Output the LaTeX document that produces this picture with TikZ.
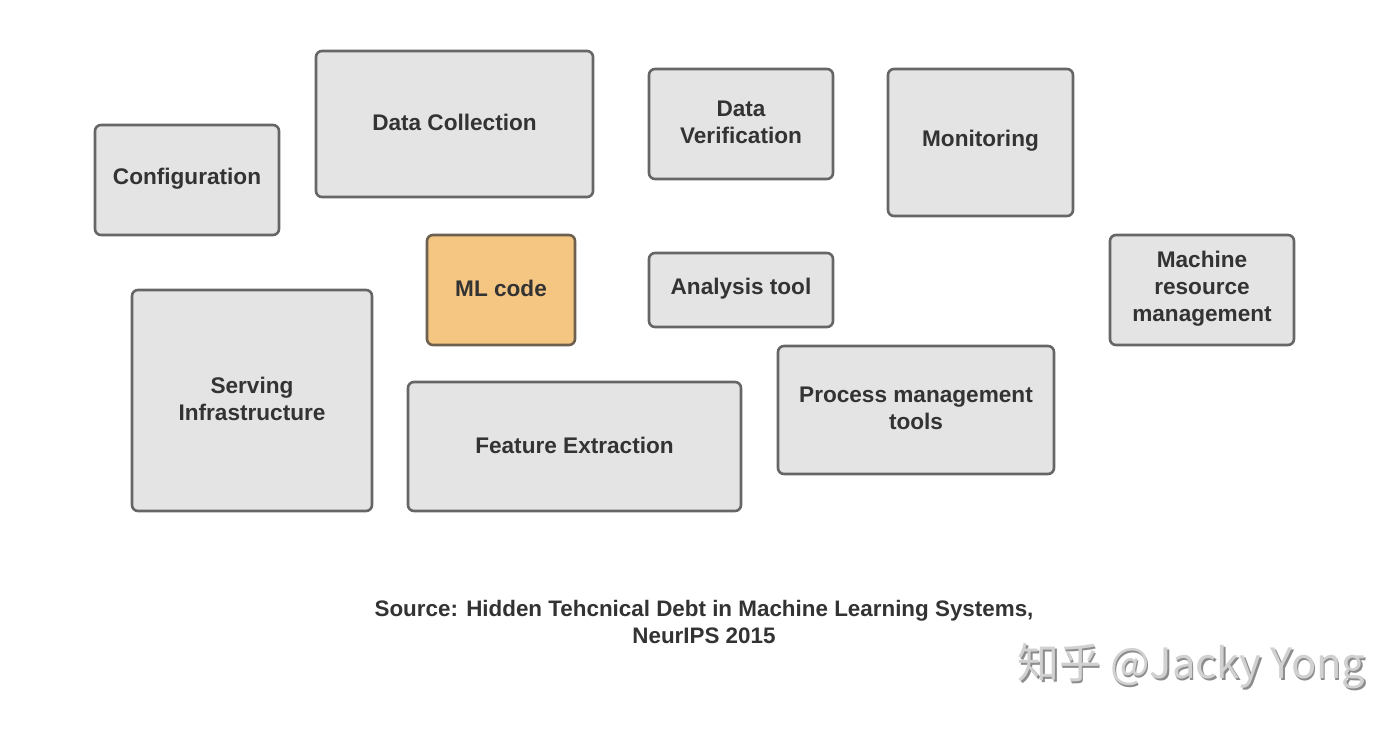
\documentclass[tikz,border=0pt]{standalone}
\usepackage{fontspec}
\setmainfont{Liberation Sans}
\newfontfamily\cjk{Noto Sans CJK SC}
\definecolor{boxfill}{HTML}{E4E4E4}
\definecolor{boxline}{HTML}{666666}
\definecolor{mlfill}{HTML}{F5C582}
\definecolor{mlline}{HTML}{6E6050}
\definecolor{txt}{HTML}{333333}
\begin{document}
\begin{tikzpicture}[x=1pt,y=-1pt,
  blk/.style={draw=boxline,fill=boxfill,line width=2.6pt,rounded corners=6pt},
  lbl/.style={text=txt,font=\bfseries\fontsize{22.6}{27}\selectfont,align=center,inner sep=0pt},
]
\useasboundingbox[fill=white] (0,0) rectangle (1400,729);
% boxes
\newcommand\bx[6]{%
  \draw[blk,#6] (#1,#2) rectangle (#3,#4);
  \node[lbl] (#5) at ({(#1+#3)/2},{(#2+#4)/2-1.5}) {\csname lbl#5\endcsname};}
\newcommand\lblconf{Configuration}
\newcommand\lbldc{Data Collection}
\newcommand\lbldv{Data\\Verification}
\newcommand\lblmon{Monitoring}
\newcommand\lblmrm{Machine\\resource\\management}
\newcommand\lblml{ML code}
\newcommand\lblat{Analysis tool}
\newcommand\lblsi{Serving\\Infrastructure}
\newcommand\lblfe{Feature Extraction}
\newcommand\lblpm{Process management\\tools}
\bx{95}{125}{279}{235}{conf}{}
\bx{316}{51}{593}{197}{dc}{}
\bx{649}{69}{833}{179}{dv}{}
\bx{888}{69}{1073}{216}{mon}{}
\bx{1110}{235}{1294}{345}{mrm}{}
\bx{427}{235}{575}{345}{ml}{fill=mlfill,draw=mlline}
\bx{649}{253}{833}{327}{at}{}
\bx{132}{290}{372}{511}{si}{}
\bx{408}{382}{741}{511}{fe}{}
\bx{778}{346}{1054}{474}{pm}{}
% caption
\node[lbl,font=\bfseries\fontsize{22.4}{27}\selectfont] (cap) at (704,622)
  {Source: Hidden Tehcnical Debt in Machine Learning Systems,\\NeurIPS 2015};
% watermark
\node[text=black!45,font=\cjk\fontsize{41.7}{44}\selectfont,inner sep=0pt] (wms) at (1193,668)
  {知乎 @Jacky Yong};
\node[text=black!18,font=\cjk\fontsize{41.7}{44}\selectfont,inner sep=0pt] (wm) at (1191.5,666.5)
  {知乎 @Jacky Yong};
\end{tikzpicture}
\end{document}
